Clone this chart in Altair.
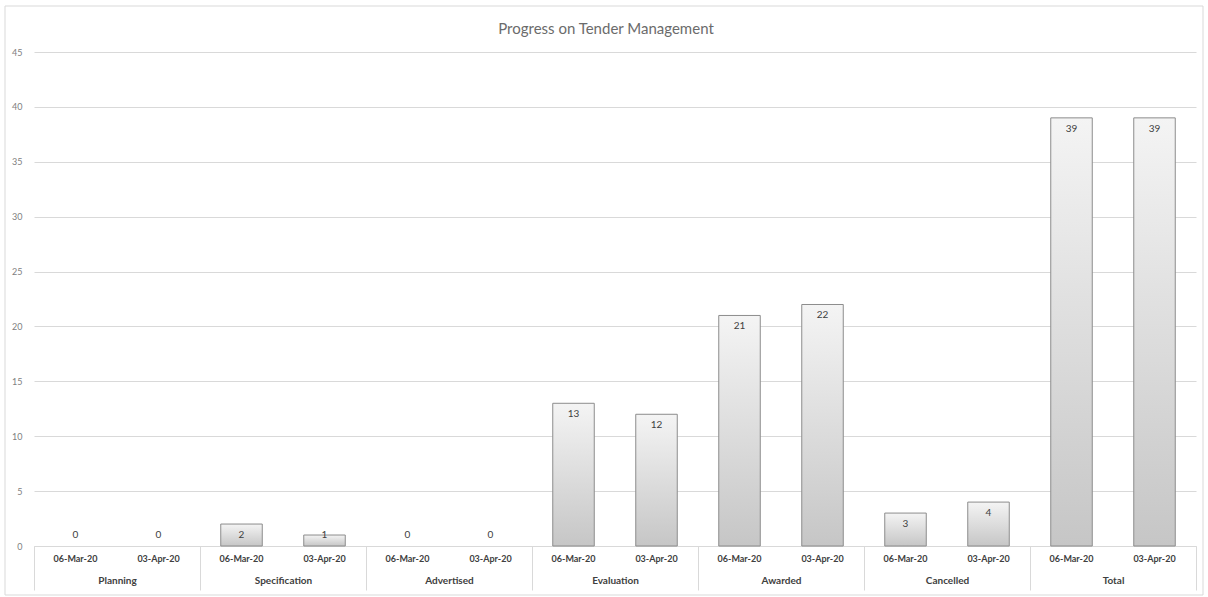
import altair as alt
import pandas as pd

groups = ["Planning", "Specification", "Advertised", "Evaluation", "Awarded", "Cancelled", "Total"]
dates = ["06-Mar-20", "03-Apr-20"]
values_mar = [0, 2, 0, 13, 21, 3, 39]
values_apr = [0, 1, 0, 12, 22, 4, 39]

rows = []
for g, a, b in zip(groups, values_mar, values_apr):
    rows.append({"group": g, "date": dates[0], "value": a})
    rows.append({"group": g, "date": dates[1], "value": b})
df = pd.DataFrame(rows)

W, H = 1162, 494
FONT = "Lato"

x = alt.X(
    "group:N", sort=groups,
    scale=alt.Scale(paddingInner=0, paddingOuter=0),
    axis=alt.Axis(title=None, tickBand="extent", tickSize=44, tickColor="#d9d9d9",
                  domainColor="#d9d9d9", labelPadding=-15, labelAngle=0, labelFont=FONT,
                  labelFontSize=10, labelFontWeight="bold", labelColor="#404040", grid=False),
)
xo = alt.XOffset("date:N", sort=dates, scale=alt.Scale(paddingInner=0.5, paddingOuter=0.25))
yaxis = alt.Axis(title=None, values=list(range(0, 50, 5)), domain=False, ticks=False,
                 gridColor="#d9d9d9", labelColor="#808080", labelFontSize=9,
                 labelPadding=12, labelFont=FONT)
y = alt.Y("value:Q", scale=alt.Scale(domain=[0, 45]), axis=yaxis)

base = alt.Chart(df)

grad = alt.Gradient(
    gradient="linear",
    stops=[alt.GradientStop(color="#f4f4f4", offset=0), alt.GradientStop(color="#c6c6c6", offset=1)],
    x1=0, x2=0, y1=0, y2=1,
)

bars = base.transform_filter("datum.value > 0").mark_bar(
    fill=grad, stroke="#8c8c8c", strokeWidth=1
).encode(x=x, xOffset=xo, y=y)

labels = base.transform_calculate(ly="max(datum.value, 2)").mark_text(
    dy=11, font=FONT, fontSize=10, color="#404040", baseline="middle"
).encode(x=x, xOffset=xo, y=alt.Y("ly:Q", scale=alt.Scale(domain=[0, 45]), axis=yaxis), text="value:Q")

date_text = base.mark_text(
    font=FONT, fontSize=9, fontWeight="bold", color="#404040", baseline="middle"
).encode(x=x, xOffset=xo, y=alt.value(H + 13), text="date:N")

frame = alt.Chart(pd.DataFrame({"a": [0]})).mark_rect(
    filled=False, stroke="#d9d9d9", strokeWidth=1
).encode(x=alt.value(-29), x2=alt.value(1169), y=alt.value(-46), y2=alt.value(543))

chart = alt.layer(bars, labels, date_text, frame).properties(
    width=W, height=H,
    autosize="none",
    padding={"left": 34, "top": 52, "right": 12, "bottom": 51},
    title=alt.TitleParams("Progress on Tender Management", fontSize=15, color="#6b6b6b",
                          font=FONT, fontWeight="normal", offset=0, anchor="middle",
                          dy=31, dx=-9),
    background="white",
).configure_view(stroke=None)

chart.save("out.html", embed_options={"renderer": "svg", "actions": False})
